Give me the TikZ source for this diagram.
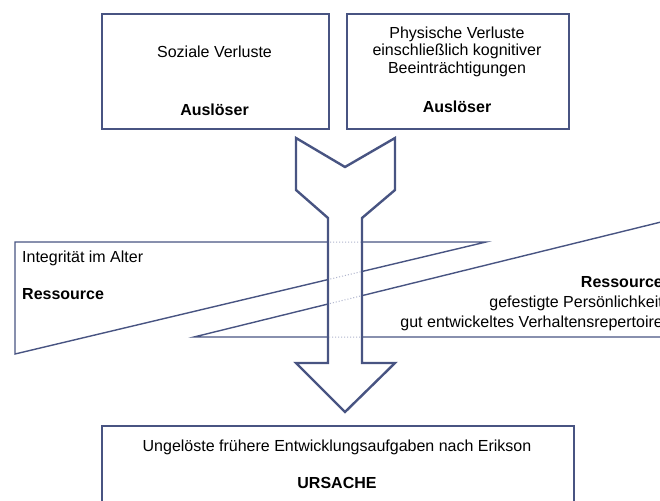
\documentclass[tikz,border=0pt]{standalone}
\usepackage{fontspec}
\setmainfont{Liberation Sans}
\definecolor{linec}{RGB}{72,84,130}
\definecolor{dotc}{RGB}{175,180,205}
\begin{document}
\begin{tikzpicture}[x=1pt,y=-1pt,
  boxline/.style={draw=linec,line width=2.4pt,fill=white},
  wedgeline/.style={draw=linec,line width=1.4pt},
  txt/.style={font=\fontsize{16}{19}\selectfont,inner sep=0pt,anchor=base},
  btxt/.style={txt,font=\fontsize{16}{19}\selectfont\bfseries}]
\useasboundingbox (0,0) rectangle (660,500);
\clip (0,0) rectangle (660,500);
% wedges
\draw[wedgeline,fill=white] (15,242) -- (486,242) -- (15,354) -- cycle;
\draw[wedgeline] (720,337) -- (194,337) -- (720,207.5);
% arrow fill
\path[fill=white] (296,138) -- (345,167) -- (395,138) -- (395,190) -- (362,218) -- (362,363) -- (395,363) -- (345,412) -- (296,363) -- (328,363) -- (328,218) -- (296,190) -- cycle;
% faint wedge lines through the shaft
\begin{scope}
\clip (329.5,218) rectangle (360.5,363);
\draw[dotc,line width=1pt,dotted] (15,242) -- (486,242) -- (15,354);
\draw[dotc,line width=1pt,dotted] (720,337) -- (194,337) -- (720,207.5);
\end{scope}
% arrow outline
\draw[draw=linec,line width=2.4pt,line join=miter] (296,138) -- (345,167) -- (395,138) -- (395,190) -- (362,218) -- (362,363) -- (395,363) -- (345,412) -- (296,363) -- (328,363) -- (328,218) -- (296,190) -- cycle;
% boxes
\node[boxline,minimum width=227pt,minimum height=115pt,anchor=north west,inner sep=0pt] (b1) at (101,13) {};
\node[boxline,minimum width=222pt,minimum height=115pt,anchor=north west,inner sep=0pt] (b2) at (346,13) {};
\node[boxline,minimum width=472pt,minimum height=110pt,anchor=north west,inner sep=0pt] (b3) at (101,425) {};
% texts
\node[txt] (t1) at (214.5,57.5) {Soziale Verluste};
\node[btxt] (t1b) at (214.5,115.5) {Auslöser};
\node[txt] (t2a) at (457,38.5) {Physische Verluste};
\node[txt] (t2b) at (457,56) {einschließlich kognitiver};
\node[txt] (t2c) at (457,73.5) {Beeinträchtigungen};
\node[btxt] (t2d) at (457,112.5) {Auslöser};
\node[txt,anchor=base west] (l1) at (22,262.5) {Integrität im Alter};
\node[btxt,anchor=base west] (l2) at (22,299.5) {Ressource};
\node[btxt,anchor=base east] (r1) at (663,287.5) {Ressource};
\node[txt,anchor=base east] (r2) at (663,307.5) {gefestigte Persönlichkeit};
\node[txt,anchor=base east] (r3) at (663,327.5) {gut entwickeltes Verhaltensrepertoire};
\node[txt] (u1) at (337,451.5) {Ungelöste frühere Entwicklungsaufgaben nach Erikson};
\node[btxt] (u2) at (337,488.5) {URSACHE};
\end{tikzpicture}
\end{document}
